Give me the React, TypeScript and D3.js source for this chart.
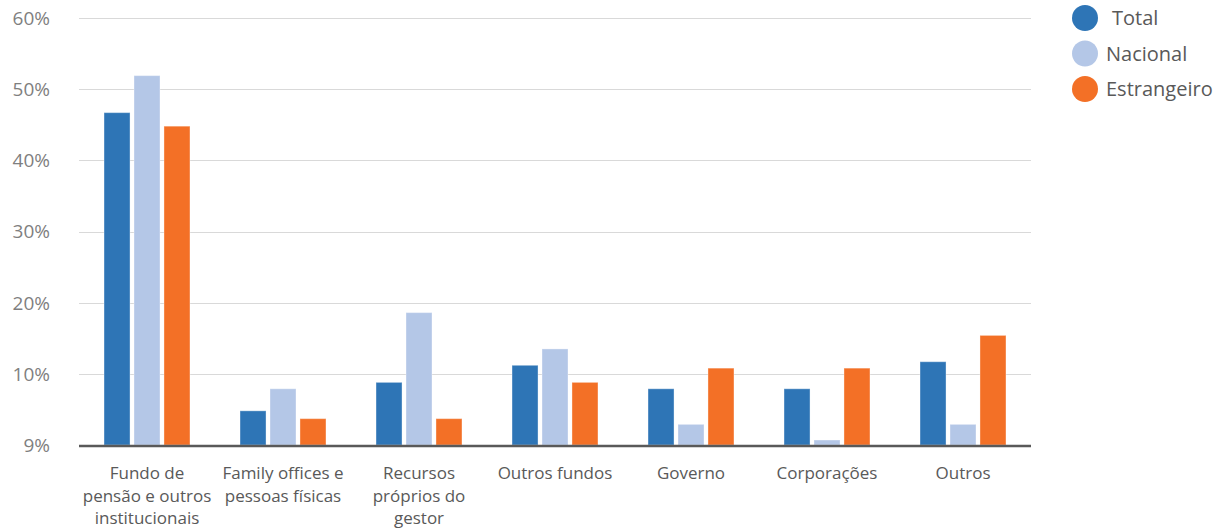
import React from "react";
import * as d3 from "d3";

const categories: string[][] = [
  ["Fundo de", "pensão e outros", "institucionais"],
  ["Family offices e", "pessoas físicas"],
  ["Recursos", "próprios do", "gestor"],
  ["Outros fundos"],
  ["Governo"],
  ["Corporações"],
  ["Outros"],
];
const seriesNames = ["Total", "Nacional", "Estrangeiro"];
const seriesColors = ["#2E75B6", "#B4C7E7", "#F37026"];
const total = [46.7, 4.8, 8.8, 11.2, 7.9, 7.9, 11.7];
const nacional = [51.9, 7.9, 18.6, 13.5, 2.9, 0.7, 2.9];
const estrangeiro = [44.8, 3.7, 3.7, 8.8, 10.8, 10.8, 15.4];
const seriesValues = [total, nacional, estrangeiro];
const tickValues = [0, 10, 20, 30, 40, 50, 60];
const tickLabels = ["9%", "10%", "20%", "30%", "40%", "50%", "60%"];

const W = 1224;
const H = 532;
const left = 79;
const right = 1031;
const top = 18;
const bottom = 445;
const FONT = "'Open Sans', 'Noto Sans', sans-serif";

export default function App() {
  const y = d3.scaleLinear().domain([0, 60]).range([bottom, top]);
  const idx = categories.map((_, i) => String(i));
  const x0 = d3
    .scaleBand<string>()
    .domain(idx)
    .range([left, right])
    .paddingInner(0.368)
    .paddingOuter(0.184);
  const x1 = d3
    .scaleBand<string>()
    .domain(seriesNames)
    .range([0, x0.bandwidth()])
    .paddingInner(0.133)
    .paddingOuter(0);
  const step = x0.step();

  return (
    <svg
      width={W}
      height={H}
      style={{ position: "absolute", left: 0, top: 0, background: "#fff" }}
      fontFamily={FONT}
    >
      {tickValues.map((t, i) =>
        t === 0 ? null : (
          <line
            key={"g" + t}
            x1={left}
            x2={right}
            y1={Math.round(y(t)) + 0.5}
            y2={Math.round(y(t)) + 0.5}
            stroke="#D9D9D9"
            strokeWidth={1}
          />
        )
      )}
      {tickValues.map((t, i) => (
        <text
          key={"t" + t}
          x={50}
          y={y(t)}
          dy="0.36em"
          textAnchor="end"
          fontSize={19}
          fill="#7F7F7F"
        >
          {tickLabels[i]}
        </text>
      ))}
      {seriesNames.map((s, si) =>
        seriesValues[si].map((v, ci) => (
          <rect
            key={s + ci}
            x={(x0(String(ci)) as number) + (x1(s) as number)}
            y={y(v)}
            width={x1.bandwidth()}
            height={bottom - y(v)}
            fill={seriesColors[si]}
            stroke="#ffffff"
            strokeOpacity={0.35}
            strokeWidth={1}
          />
        ))
      )}
      <line x1={left} x2={right} y1={bottom + 1} y2={bottom + 1} stroke="#595959" strokeWidth={2.5} />
      {categories.map((lines, ci) => {
        const cx = (x0(String(ci)) as number) + x0.bandwidth() / 2;
        return (
          <text key={"c" + ci} textAnchor="middle" fontSize={17} fill="#595959">
            {lines.map((ln, li) => (
              <tspan key={li} x={cx} y={479 + li * 22.5}>
                {ln}
              </tspan>
            ))}
          </text>
        );
      })}
      {seriesNames.map((s, si) => (
        <g key={"l" + s} transform={`translate(1085, ${18 + si * 35.5})`}>
          <circle r={13} fill={seriesColors[si]} />
          <text x={si === 0 ? 27 : 21} dy="0.35em" fontSize={20} fill="#595959">
            {s}
          </text>
        </g>
      ))}
    </svg>
  );
}
